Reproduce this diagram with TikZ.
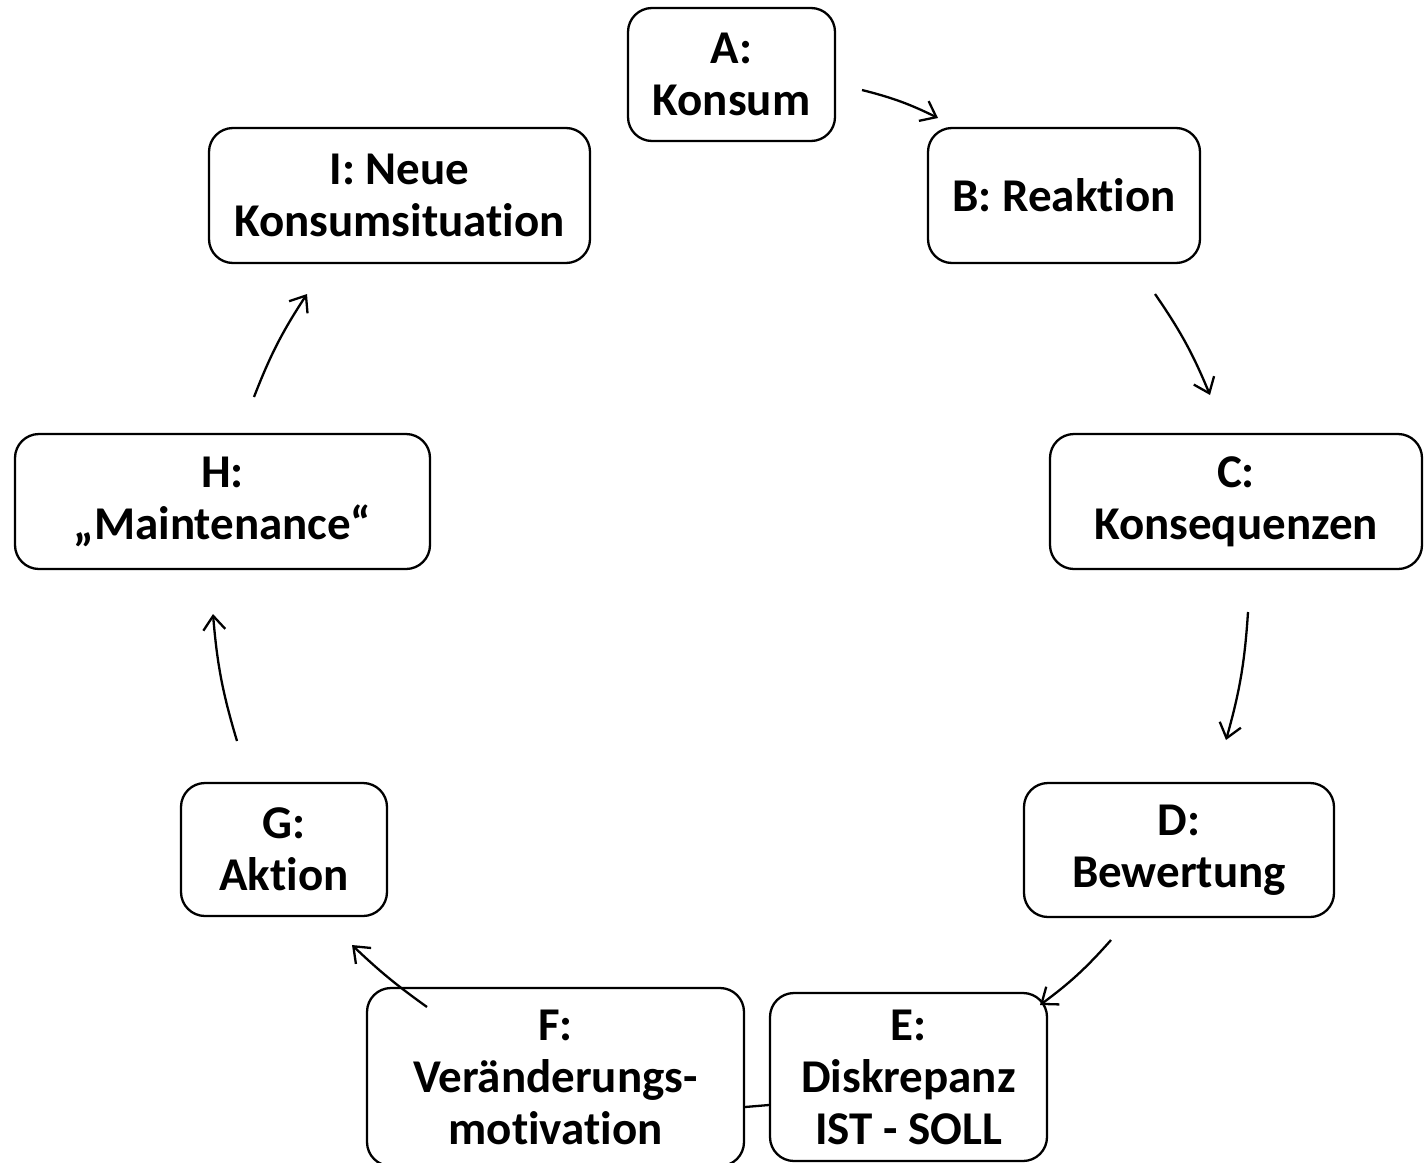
\documentclass[tikz,border=0pt]{standalone}
\usepackage{fontspec}
\setmainfont{Carlito}[Ligatures=NoCommon]
\usetikzlibrary{arrows.meta}
\begin{document}
\begin{tikzpicture}[x=1pt,y=-1pt,
  box/.style={draw, line width=2.3pt, rounded corners=24pt, inner sep=0pt,
    align=center, font=\bfseries\fontsize{47}{52}\selectfont},
  conn/.style={line width=2.3pt, -{Straight Barb[length=14pt,width=22pt,line width=2.3pt]}},
  plain/.style={line width=2.3pt}]
\useasboundingbox (0,0) rectangle (1424,1162);
\clip (0,0) rectangle (1424,1162);
\node[box, minimum width=207pt, minimum height=133pt] (A) at (731.5,74.5) {A:\\Konsum};
\node[box, minimum width=272pt, minimum height=135pt] (B) at (1064,195.5) {B: Reaktion};
\node[box, minimum width=372pt, minimum height=135pt] (C) at (1236,501.5) {C:\\Konsequenzen};
\node[box, minimum width=310pt, minimum height=134pt] (D) at (1179,850) {D:\\Bewertung};
\node[box, minimum width=277pt, minimum height=168pt] (E) at (908.5,1077) {E:\\Diskrepanz\\IST - SOLL};
\node[box, minimum width=377pt, minimum height=178pt] (F) at (555.5,1077) {F:\\Veränderungs-\\motivation};
\node[box, minimum width=206pt, minimum height=133pt] (G) at (284,849.5) {G:\\Aktion};
\node[box, minimum width=415pt, minimum height=135pt] (H) at (222.5,501.5) {H:\\„Maintenance“};
\node[box, minimum width=381pt, minimum height=135pt] (I) at (399.5,195.5) {I: Neue\\Konsumsituation};
\coordinate (ab1) at (862,90);   \coordinate (ab2) at (938,118);
\coordinate (bc1) at (1155,294); \coordinate (bc2) at (1210,395);
\coordinate (cd1) at (1248,612); \coordinate (cd2) at (1226,740);
\coordinate (de1) at (1111,940); \coordinate (de2) at (1040,1005);
\coordinate (fg1) at (427,1007); \coordinate (fg2) at (352,945);
\coordinate (gh1) at (237,741);  \coordinate (gh2) at (213,614);
\coordinate (hi1) at (254,397);  \coordinate (hi2) at (307,294);
\draw[conn] (ab1) to[bend left=6] (ab2);
\draw[conn] (bc1) to[bend left=6] (bc2);
\draw[conn] (cd1) to[bend left=6] (cd2);
\draw[conn] (de1) to[bend left=6] (de2);
\draw[conn] (fg1) to[bend left=4] (fg2);
\draw[conn] (gh1) to[bend left=6] (gh2);
\draw[conn] (hi1) to[bend left=6] (hi2);
\draw[plain] (E.west |- 0,1105) -- (F.east |- 0,1107);
\end{tikzpicture}
\end{document}
